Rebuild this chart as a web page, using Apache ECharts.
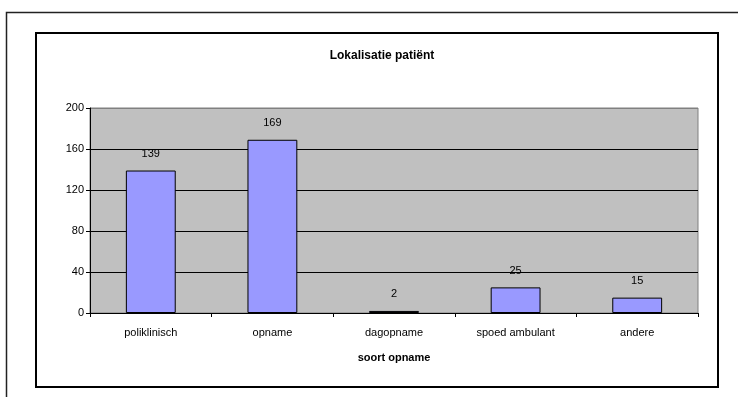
<!DOCTYPE html>
<html>
<head>
<meta charset="utf-8">
<script src="https://cdn.jsdelivr.net/npm/echarts@6/dist/echarts.min.js"></script>
<style>
  html, body { margin: 0; padding: 0; background: #fff; }
  #chart { width: 738px; height: 397px; }
</style>
</head>
<body>
<div id="chart"></div>
<script>
// Patient location counts per admission type
const categories = ['poliklinisch', 'opname', 'dagopname', 'spoed ambulant', 'andere'];
const counts = [139, 169, 2, 25, 15];
const yTicks = { min: 0, max: 200, step: 40 };

const FONT = '"Liberation Sans", Arial, sans-serif';

const chart = echarts.init(document.getElementById('chart'), null, { renderer: 'canvas' });

chart.setOption({
  backgroundColor: '#ffffff',
  animation: false,
  title: {
    text: 'Lokalisatie patiënt',
    left: 377,
    top: 45,
    textAlign: 'center',
    textStyle: { fontFamily: FONT, fontSize: 12, fontWeight: 'bold', color: '#000' }
  },
  graphic: [
    {
      type: 'rect',
      silent: true,
      shape: { x: 6.5, y: 12.5, width: 900, height: 600 },
      style: { fill: 'none', stroke: '#222', lineWidth: 1.5 }
    },
    {
      type: 'rect',
      silent: true,
      shape: { x: 36, y: 33, width: 682, height: 354 },
      style: { fill: 'none', stroke: '#000', lineWidth: 2 }
    }
  ],
  grid: {
    left: 90,
    right: 40,
    top: 108,
    bottom: 84,
    show: true,
    backgroundColor: '#C0C0C0',
    borderColor: '#808080',
    borderWidth: 1
  },
  xAxis: {
    type: 'category',
    data: categories,
    name: 'soort opname',
    nameLocation: 'middle',
    nameGap: 39,
    nameTextStyle: { fontFamily: FONT, fontSize: 11, fontWeight: 'bold', color: '#000' },
    axisLine: { lineStyle: { color: '#000', width: 1 } },
    axisTick: { show: true, length: 4, lineStyle: { color: '#000' } },
    axisLabel: { fontFamily: FONT, fontSize: 11, color: '#000', margin: 14 }
  },
  yAxis: {
    type: 'value',
    min: yTicks.min,
    max: yTicks.max,
    interval: yTicks.step,
    axisLine: { show: true, lineStyle: { color: '#000', width: 1 } },
    axisTick: { show: true, length: 4, lineStyle: { color: '#000' } },
    axisLabel: { fontFamily: FONT, fontSize: 11, color: '#000', margin: 6 },
    splitLine: {
      show: true,
      lineStyle: { color: ['#000', '#000', '#000', '#000', '#000', '#808080'], width: 1 }
    }
  },
  series: [{
    type: 'bar',
    data: counts,
    barWidth: '41%',
    itemStyle: { color: '#9999FF', borderColor: '#000', borderWidth: 1 },
    label: {
      show: true,
      position: 'top',
      distance: 11,
      fontFamily: FONT,
      fontSize: 11,
      color: '#000'
    }
  }]
});
</script>
</body>
</html>
